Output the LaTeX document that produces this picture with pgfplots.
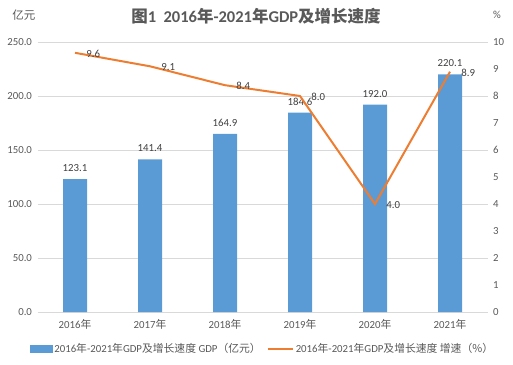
\documentclass[border=0pt]{standalone}
\usepackage{pgfplots}
\pgfplotsset{compat=1.18}
\usepackage{fontspec}
\setmainfont{Carlito}
\newfontfamily\cjk{Noto Sans CJK SC}
\definecolor{barblue}{HTML}{5B9BD5}
\definecolor{lineorange}{HTML}{ED7D31}
\definecolor{gridgray}{HTML}{D9D9D9}
\definecolor{ticktext}{HTML}{595959}
\definecolor{labeltext}{HTML}{404040}
\newcommand{\nian}{{\cjk 年}}
\newcommand{\fs}{\fontsize{10.8}{13}\selectfont}
\begin{document}
\begin{tikzpicture}
\path[use as bounding box] (0,0) rectangle (513pt,364pt);
\begin{axis}[
  at={(37.5pt,52pt)}, anchor=south west,
  scale only axis, width=450pt, height=270pt,
  xmin=-0.5, xmax=5.5, ymin=0, ymax=250,
  ytick={0,50,...,250},
  xtick={0,...,5},
  xticklabels={2016\nian,2017\nian,2018\nian,2019\nian,2020\nian,2021\nian},
  /pgf/number format/assume math mode=true,
  yticklabel style={/pgf/number format/.cd, fixed, fixed zerofill, precision=1, /tikz/.cd, xshift=-2pt},
  xticklabel style={yshift=-4pt},
  tick label style={font=\fs, text=ticktext},
  axis line style={draw=none},
  major tick length=0pt,
  ymajorgrids, grid style={gridgray, line width=0.8pt},
  axis y line*=left, axis x line*=bottom,
  ybar, bar width=24pt,
  nodes near coords,
  nodes near coords style={/pgf/number format/.cd, fixed, fixed zerofill, precision=1, /tikz/.cd, font=\fs, text=labeltext, yshift=4pt},
]
\addplot[fill=barblue, draw=none] coordinates {(0,123.1) (1,141.4) (2,164.9) (3,184.6) (4,192.0) (5,220.1)};
\end{axis}
\begin{axis}[
  at={(37.5pt,52pt)}, anchor=south west,
  scale only axis, width=450pt, height=270pt,
  xmin=-0.5, xmax=5.5, ymin=0, ymax=10,
  ytick={0,...,10},
  axis y line*=right, axis x line=none,
  /pgf/number format/assume math mode=true,
  tick label style={font=\fs, text=ticktext},
  yticklabel style={xshift=2pt},
  axis line style={draw=none},
  major tick length=0pt,
  legend style={at={(0.5,-0.137)}, anchor=center, draw=none, legend columns=2, font=\fs, text=ticktext,
    /tikz/every even column/.append style={column sep=4pt}},
  legend cell align=left,
]
\addlegendimage{legend image code/.code={\fill[barblue] (0pt,-3.5pt) rectangle (22pt,3.5pt);}}
\addlegendentry{2016\nian-2021\nian GDP{\cjk 及增长速度} GDP{\cjk （亿元）}}
\addplot[lineorange, line width=2pt, mark=none,
  nodes near coords,
  every node near coord/.append style={/pgf/number format/.cd, fixed, fixed zerofill, precision=1, /tikz/.cd, font=\fs, text=labeltext, anchor=west, xshift=7pt, yshift=-1pt},
  legend image code/.code={\draw[lineorange, line width=2pt] (0pt,0pt)--(25pt,0pt);}]
  coordinates {(0,9.6) (1,9.1) (2,8.4) (3,8.0) (4,4.0) (5,8.9)};
\addlegendentry{2016\nian-2021\nian GDP{\cjk 及增长速度 增速（\%）}}
\end{axis}
\node[font=\fontsize{11.5}{14}\selectfont, text=ticktext] at (24pt,349pt) {\cjk 亿元};
\node[font=\fs, text=ticktext] at (497pt,349pt) {\%};
\node[font=\fontsize{16.5}{19}\selectfont\bfseries, text=ticktext] at (256pt,348pt) {{\cjk 图}1\ \ 2016\nian-2021\nian GDP{\cjk 及增长速度}};
\end{tikzpicture}
\end{document}
